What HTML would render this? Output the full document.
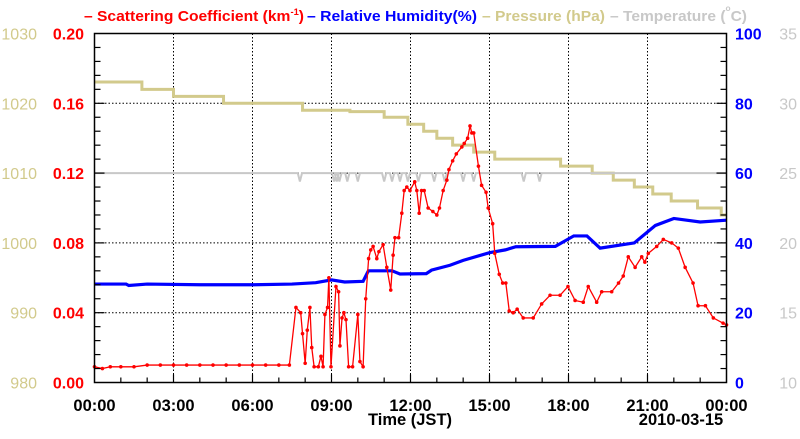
<!DOCTYPE html>
<html><head><meta charset="utf-8"><style>
body{margin:0;background:#fff;width:800px;height:434px;overflow:hidden}
text{font-family:"Liberation Sans",sans-serif}
</style></head><body>
<svg id="chart" width="800" height="434" xmlns="http://www.w3.org/2000/svg">
<g id="title" font-size="15" font-weight="bold" text-anchor="start">
<text x="84" y="21" fill="#ff0000" textLength="220" lengthAdjust="spacingAndGlyphs">– Scattering Coefficient (km<tspan font-size="9" dy="-6">-1</tspan><tspan dy="6">)</tspan></text>
<text x="307" y="21" fill="#0000ff" textLength="170" lengthAdjust="spacingAndGlyphs">– Relative Humidity(%)</text>
<text x="482" y="21" fill="#d2ca8c" textLength="123" lengthAdjust="spacingAndGlyphs">– Pressure (hPa)</text>
<text x="610" y="21" fill="#c8c8c8" textLength="137" lengthAdjust="spacingAndGlyphs">– Temperature (<tspan font-size="8" dy="-10">o</tspan><tspan dy="10">C)</tspan></text>
</g>
<g id="grid"></g>
<g id="series"></g>
<g id="axes"></g>
</svg>
<script>
const xTickLabels=["00:00","03:00","06:00","09:00","12:00","15:00","18:00","21:00","00:00"];
const scatTicks=["0.00","0.04","0.08","0.12","0.16","0.20"];
const presTicks=["980","990","1000","1010","1020","1030"];
const rhTicks=["0","20","40","60","80","100"];
const tempTicks=["10","15","20","25","30","35"];
const scatT=[0,0.3,0.6,1,1.5,2,2.5,3,3.5,4,4.5,5,5.5,6,6.5,7,7.4,7.65,7.83,7.9,8.0,8.08,8.18,8.25,8.34,8.5,8.6,8.68,8.75,8.85,8.9,8.98,9.17,9.27,9.32,9.4,9.47,9.55,9.65,9.8,10.0,10.08,10.2,10.3,10.41,10.49,10.58,10.72,10.8,10.96,11.1,11.25,11.34,11.41,11.55,11.67,11.76,11.86,11.98,12.16,12.24,12.33,12.42,12.52,12.67,12.85,13.0,13.1,13.24,13.38,13.46,13.6,13.74,13.95,14.04,14.17,14.26,14.33,14.4,14.58,14.7,14.87,14.95,15.12,15.2,15.37,15.5,15.62,15.75,15.9,16.05,16.28,16.66,16.98,17.3,17.68,17.98,18.25,18.56,18.75,19.07,19.26,19.64,19.9,20.08,20.27,20.53,20.78,20.9,21.03,21.35,21.6,21.92,22.17,22.43,22.73,22.92,23.2,23.5,23.87,24];
const scatV=[0.009,0.008,0.009,0.009,0.009,0.010,0.010,0.010,0.010,0.010,0.010,0.010,0.010,0.010,0.010,0.010,0.010,0.043,0.040,0.028,0.011,0.030,0.043,0.020,0.009,0.009,0.015,0.009,0.039,0.043,0.060,0.009,0.055,0.052,0.021,0.037,0.040,0.036,0.009,0.009,0.039,0.012,0.009,0.048,0.071,0.076,0.078,0.071,0.075,0.079,0.066,0.053,0.073,0.083,0.083,0.097,0.110,0.112,0.110,0.115,0.110,0.097,0.110,0.110,0.100,0.098,0.096,0.100,0.110,0.116,0.122,0.127,0.131,0.135,0.137,0.140,0.147,0.143,0.143,0.124,0.113,0.109,0.100,0.091,0.074,0.062,0.057,0.057,0.041,0.040,0.042,0.037,0.037,0.045,0.050,0.050,0.055,0.047,0.046,0.055,0.046,0.052,0.052,0.057,0.061,0.072,0.066,0.072,0.069,0.074,0.078,0.082,0.080,0.077,0.066,0.057,0.044,0.044,0.037,0.034,0.033];
const rhT=[0,1.2,1.3,2,4,6,7.5,8.4,9.0,9.5,10.2,10.4,11.3,11.6,12.6,12.8,13.5,14.0,15.0,15.6,16.0,17.5,18.2,18.7,19.2,20.5,21.3,22.0,23.0,24];
const rhV=[28.2,28.2,27.8,28.2,28.0,28.0,28.2,28.6,29.4,28.8,29.0,32.0,32.0,31.1,31.2,32.2,33.6,35.0,37.2,38.0,38.9,39.0,42.0,42.0,38.5,40.0,45.0,47.0,46.0,46.5];
const presT=[0,1.8,3.0,4.9,7.9,9.7,11.0,11.9,12.5,13.0,13.6,14.4,15.2,16.5,17.7,18.9,19.7,20.5,21.2,21.9,22.9,23.8,24];
const presV=[1023.05,1022.0,1021.0,1020.0,1019.0,1018.8,1018.0,1017.0,1016.0,1015.0,1014.0,1013.0,1012.0,1012.0,1011.0,1010.0,1009.0,1008.0,1007.0,1006.0,1005.0,1004.0,1004.0];
const tempDipT=[7.8,9.1,9.2,9.3,9.6,10.0,11.0,11.3,11.6,11.9,12.3,12.9,13.3,14.0,14.4,16.3,16.9];
const tempBase=25.0;
const tempDipV=24.4;

const L=94.5,R=726.5,T=33.5,B=382.5;
const X=h=>L+h/24*(R-L);
const yS=v=>B-v/0.2*(B-T);
const yP=v=>B-(v-980)/50*(B-T);
const yH=v=>B-v/100*(B-T);
const yT=v=>B-(v-10)/25*(B-T);
const NS="http://www.w3.org/2000/svg";
function mk(p,tag,a){const e=document.createElementNS(NS,tag);for(const k in a)e.setAttribute(k,a[k]);p.appendChild(e);return e;}
const grid=document.getElementById('grid'),ser=document.getElementById('series'),ax=document.getElementById('axes');
for(let i=1;i<8;i++){const g=mk(grid,'line',{x1:X(i*3),x2:X(i*3),y1:T,y2:B,stroke:'#000','stroke-width':1,'stroke-dasharray':'1.5,2'});

}
for(let i=1;i<5;i++){const g=mk(grid,'line',{x1:L,x2:R,y1:yS(i*0.04),y2:yS(i*0.04),stroke:'#000','stroke-width':1,'stroke-dasharray':'1.5,2'});

}
let pd='';presT.forEach((t,i)=>{if(i==0)pd+='M'+X(t)+','+yP(presV[i]);else pd+='H'+X(t)+'V'+yP(presV[i]);});
const pp=mk(ser,'path',{d:pd,fill:'none',stroke:'#d2ca8c','stroke-width':3});


let td='M'+X(0)+','+yT(tempBase);
tempDipT.forEach(t=>{td+='L'+X(t-0.08)+','+yT(tempBase)+'L'+X(t)+','+yT(tempDipV)+'L'+X(t+0.08)+','+yT(tempBase);});
td+='L'+X(24)+','+yT(tempBase);
const tp=mk(ser,'path',{d:td,fill:'none',stroke:'#c8c8c8','stroke-width':2});


let hd='';rhT.forEach((t,i)=>{hd+=(i?'L':'M')+X(t)+','+yH(rhV[i]);});
const hp=mk(ser,'path',{d:hd,fill:'none',stroke:'#0000ff','stroke-width':3.2});


let sd='';scatT.forEach((t,i)=>{sd+=(i?'L':'M')+X(t)+','+yS(scatV[i]);});
const sp=mk(ser,'path',{d:sd,fill:'none',stroke:'#ff0000','stroke-width':1.3});


scatT.forEach((t,i)=>{const c=mk(ser,'circle',{cx:X(t),cy:yS(scatV[i]),r:1.8,fill:'#ff0000'});

});
const fr=mk(ax,'rect',{x:L,y:T,width:R-L,height:B-T,fill:'none',stroke:'#000','stroke-width':1.5});


for(let h=1;h<24;h++){const len=h%3==0?8:5;const t=mk(ax,'line',{x1:X(h),x2:X(h),y1:B,y2:B-len,stroke:'#000','stroke-width':1.2});

}
for(let k=1;k<25;k++){const y=B-k*(B-T)/25;const len=k%5==0?10:6;
const a=mk(ax,'line',{x1:L,x2:L+len,y1:y,y2:y,stroke:'#000','stroke-width':1.2});


const b=mk(ax,'line',{x1:R,x2:R-len,y1:y,y2:y,stroke:'#000','stroke-width':1.2});

}
function tx(x,y,s,fill,anchor,size,bold,name){const e=mk(ax,'text',{x:x,y:y,fill:fill,'text-anchor':anchor,'font-size':size,'font-weight':bold?'bold':'normal'});e.textContent=s;

}
xTickLabels.forEach((s,i)=>tx(X(i*3),411,s,'#000','middle',16.5,true,'x-tick-label'));
for(let i=0;i<6;i++){const y=B-i*(B-T)/5+6;
tx(84,y,scatTicks[i],'#ff0000','end',16,true,'scattering-tick-label');
tx(37,y,presTicks[i],'#d2ca8c','end',16,false,'pressure-tick-label');
tx(735,y,rhTicks[i],'#0000ff','start',16,true,'humidity-tick-label');
tx(797,y,tempTicks[i],'#c8c8c8','end',16,false,'temperature-tick-label');}
tx(410,425,'Time (JST)','#000','middle',16.5,true,'x-axis-title');
tx(681,425,'2010-03-15','#000','middle',16.5,true,'date-label');
</script>
</body></html>
